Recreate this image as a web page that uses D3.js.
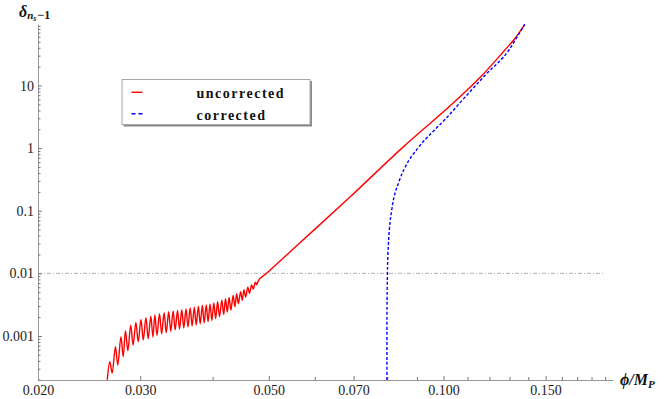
<!DOCTYPE html>
<html><head><meta charset="utf-8">
<script src="https://cdn.jsdelivr.net/npm/d3@7"></script>
<style>body{margin:0;background:#fff} svg{display:block}</style>
</head><body>
<svg id="c" width="664" height="399"></svg>
<script>
// ---- data ----
const uncorrectedPhi = [
  0.02633,
  0.02660,0.02685, 0.02720,0.02745, 0.02780,0.02805, 0.02830,0.02857, 0.02890,0.02917,
  0.02950,0.02977, 0.03010,0.03037, 0.03070,0.03097, 0.03130,0.03157, 0.03180,0.03207,
  0.03240,0.03267, 0.03300,0.03327, 0.03360,0.03387, 0.03420,0.03447, 0.03480,0.03507,
  0.03540,0.03567, 0.03600,0.03627, 0.03660,0.03687, 0.03720,0.03747, 0.03780,0.03808,
  0.03840,0.03868, 0.03900,0.03928, 0.03960,0.03988, 0.04020,0.04048, 0.04080,0.04110,
  0.04150,0.04180, 0.04210,0.04240, 0.04270,0.04300, 0.04340,0.04370, 0.04400,0.04430,
  0.04470,0.04500, 0.04530,0.04560, 0.04600,0.04630, 0.04670,0.04700, 0.04740,0.04765,
  0.0479, 0.04956, 0.05657, 0.0690, 0.0848, 0.1053, 0.1156, 0.1276, 0.1328, 0.1381
];
const uncorrectedDelta = [
  0.000200,
  0.000387,0.000255, 0.000672,0.000343, 0.000971,0.000465, 0.00121,0.000580, 0.00149,0.000716,
  0.00165,0.000808, 0.00184,0.000860, 0.00196,0.000905, 0.00206,0.000955, 0.00217,0.00102,
  0.00227,0.00108, 0.00235,0.00113, 0.00243,0.00119, 0.00250,0.00125, 0.00256,0.00129,
  0.00263,0.00134, 0.00271,0.00139, 0.00280,0.00145, 0.00289,0.00150, 0.00297,0.00156,
  0.00306,0.00162, 0.00314,0.00169, 0.00323,0.00177, 0.00337,0.00190, 0.00352,0.00204,
  0.00371,0.00221, 0.00392,0.00240, 0.00412,0.00259, 0.00442,0.00293, 0.00473,0.00327,
  0.00510,0.00370, 0.00550,0.00420, 0.00602,0.00480, 0.00655,0.00560, 0.00720,0.00665,
  0.00745, 0.0100, 0.0307, 0.1656, 1.0, 5.86, 13.4, 36.9, 56.4, 95
];
const correctedPhi = [0.07990, 0.07991, 0.08006, 0.08038, 0.08067, 0.08140, 0.08390, 0.08592,
  0.09036, 0.0968, 0.1011, 0.1078, 0.1183, 0.1297, 0.1340, 0.1381];
const correctedDelta = [0.000198, 0.002, 0.01, 0.03, 0.05, 0.1, 0.3, 0.5,
  1.0, 2.0, 3.0, 5.86, 15, 36.9, 60, 95];

const seriesNames = ["uncorrected", "corrected"];
const seriesColors = ["#ff0000", "#0000ff"];
const xTickValues = [0.02, 0.03, 0.05, 0.07, 0.1, 0.15];
const xTickLabels = ["0.020", "0.030", "0.050", "0.070", "0.100", "0.150"];
const xMinorTicks = [0.04, 0.06, 0.08, 0.09, 0.11, 0.12, 0.13, 0.14, 0.16, 0.17, 0.18, 0.19];
const yTickValues = [0.001, 0.01, 0.1, 1, 10];
const yTickLabels = ["0.001", "0.01", "0.1", "1", "10"];
const referenceLevel = 0.01;

// ---- scales ----
const x = d3.scaleLog().domain([0.02, 0.196]).range([38, 613]);
const y = d3.scaleLog().domain([0.000198, 95]).range([380, 24.3]);

const svg = d3.select("#c");
const serif = "Liberation Serif";
const axisGray = "#9a9a9a";

// minor y ticks
const yMinor = [];
for (let k = -4; k <= 1; k++) for (let m = 2; m <= 9; m++) {
  const v = m * Math.pow(10, k);
  if (v >= y.domain()[0] && v <= y.domain()[1]) yMinor.push(v);
}

// reference line
svg.append("line")
  .attr("x1", x(0.02)).attr("x2", 605)
  .attr("y1", y(referenceLevel)).attr("y2", y(referenceLevel))
  .attr("stroke", "#b0b0b0").attr("stroke-width", 1)
  .attr("stroke-dasharray", "4,2,1,2");

// axes
const gx = svg.append("g").attr("transform", `translate(0,${y.range()[0]})`)
  .call(d3.axisBottom(x).tickValues(xTickValues)
    .tickFormat((d, i) => xTickLabels[i]).tickSize(-4).tickSizeOuter(0).tickPadding(5));
const gxm = svg.append("g").attr("transform", `translate(0,${y.range()[0]})`)
  .call(d3.axisBottom(x).tickValues(xMinorTicks).tickFormat("").tickSize(-3).tickSizeOuter(0));
gxm.select(".domain").remove();

const gy = svg.append("g").attr("transform", `translate(${x.range()[0]},0)`)
  .call(d3.axisLeft(y).tickValues(yTickValues)
    .tickFormat((d, i) => yTickLabels[i]).tickSize(-4).tickSizeOuter(0).tickPadding(4));
const gym = svg.append("g").attr("transform", `translate(${x.range()[0]},0)`)
  .call(d3.axisLeft(y).tickValues(yMinor).tickFormat("").tickSize(-2.5).tickSizeOuter(0));
gym.select(".domain").remove();

[gx, gxm, gy, gym].forEach(g => {
  g.attr("font-family", serif);
  g.selectAll(".domain").attr("stroke", axisGray);
  g.selectAll(".tick line").attr("stroke", "#777");
  g.selectAll("text").attr("font-family", serif).attr("font-size", 14).attr("fill", "#222");
});

// series
const line = d3.line().x(d => x(d[0])).y(d => y(d[1])).curve(d3.curveMonotoneX);
const redData = uncorrectedPhi.map((p, i) => [p, uncorrectedDelta[i]]);
const blueData = correctedPhi.map((p, i) => [p, correctedDelta[i]]);

svg.append("path").datum(redData).attr("d", line)
  .attr("fill", "none").attr("stroke", seriesColors[0]).attr("stroke-width", 1.4);
svg.append("path").datum(blueData).attr("d", line)
  .attr("fill", "none").attr("stroke", seriesColors[1]).attr("stroke-width", 1.4)
  .attr("stroke-dasharray", "3,2");

// axis titles
const xl = svg.append("text").attr("x", 620).attr("y", 385)
  .attr("font-family", serif).attr("font-size", 16).attr("font-weight", "bold")
  .attr("font-style", "italic").attr("fill", "#111").text("\u03D5/M");
xl.append("tspan").attr("font-size", 11).attr("dy", 3).text("P");

const yl = svg.append("text").attr("x", 19).attr("y", 17)
  .attr("font-family", serif).attr("font-size", 16).attr("font-weight", "bold")
  .attr("font-style", "italic").attr("fill", "#111").text("\u03B4");
yl.append("tspan").attr("font-size", 11).attr("dy", 2).text("n");
yl.append("tspan").attr("font-size", 8).attr("dy", 2).text("s");
yl.append("tspan").attr("font-size", 12).attr("dy", -2).attr("font-style", "normal").attr("dx", 1).text("\u22121");

// legend
const lg = svg.append("g");
lg.append("rect").attr("x", 123.5).attr("y", 81).attr("width", 188.5).attr("height", 45.5).attr("fill", "#8a8a8a");
lg.append("rect").attr("x", 122).attr("y", 79.5).attr("width", 188).attr("height", 45)
  .attr("fill", "#fff").attr("stroke", "#a8a8a8").attr("stroke-width", 1);
seriesNames.forEach((name, i) => {
  const yy = 92.3 + i * 21.5;
  lg.append("line").attr("x1", 131.5).attr("x2", 142.5).attr("y1", yy).attr("y2", yy)
    .attr("stroke", seriesColors[i]).attr("stroke-width", 1.4)
    .attr("stroke-dasharray", i === 1 ? "4,3" : null);
  lg.append("text").attr("x", 196.5).attr("y", 97.5 + i * 22.3)
    .attr("font-family", serif).attr("font-size", 14).attr("font-weight", "bold")
    .attr("letter-spacing", "1.5px").attr("fill", "#111").text(name);
});
</script>
</body></html>
